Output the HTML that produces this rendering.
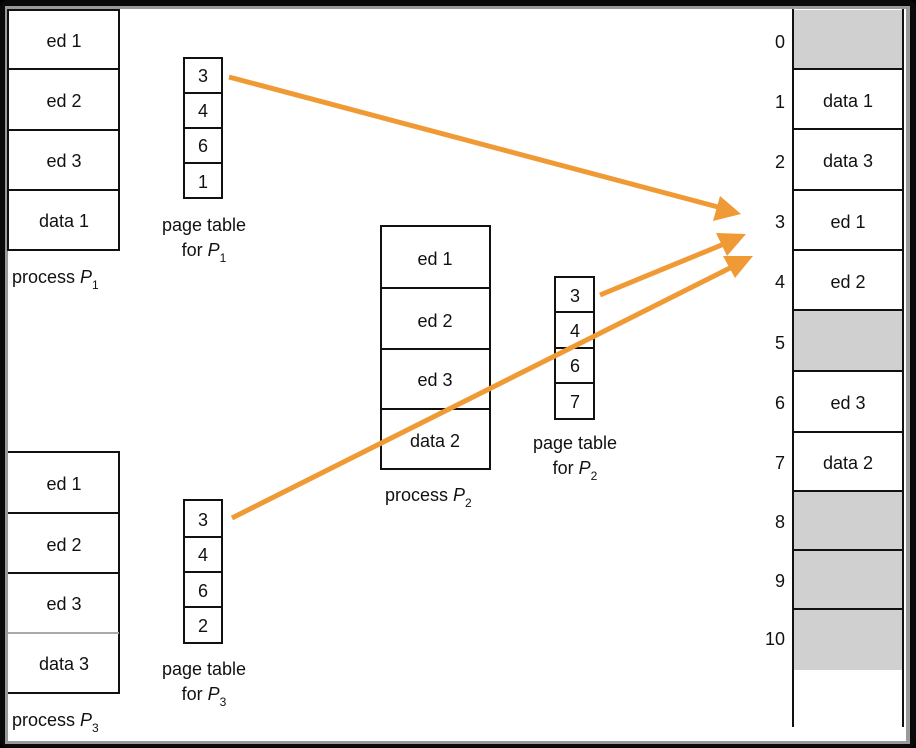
<!DOCTYPE html>
<html><head><meta charset="utf-8"><style>
html,body{margin:0;padding:0;background:#000;}
svg{display:block;font-family:"Liberation Sans",Arial,sans-serif;}
text{font-size:18px;fill:#111;}
</style></head><body>
<svg width="916" height="748" viewBox="0 0 916 748" xmlns="http://www.w3.org/2000/svg">
<rect x="0" y="0" width="916" height="748" rx="8" fill="#0a0a0a"/>
<rect x="5" y="6" width="905" height="738" fill="#9a9a9a"/>
<rect x="8" y="9" width="898" height="732" fill="#fff"/>
<g stroke="#111" stroke-width="2" fill="none">
<!-- P1 -->
<rect x="8" y="10" width="111" height="240" fill="#fff"/>
<line x1="8" y1="69" x2="119" y2="69"/><line x1="8" y1="130" x2="119" y2="130"/><line x1="8" y1="190" x2="119" y2="190"/>
<!-- PT1 -->
<rect x="184" y="58" width="38" height="140"/>
<line x1="184" y1="93" x2="222" y2="93"/><line x1="184" y1="128" x2="222" y2="128"/><line x1="184" y1="163" x2="222" y2="163"/>
<!-- P3 -->
<path d="M8 452 H119 V693 H8"/>
<line x1="8" y1="513" x2="119" y2="513"/><line x1="8" y1="573" x2="119" y2="573"/><line x1="8" y1="633" x2="119" y2="633" stroke="#aaa"/>
<!-- PT3 -->
<rect x="184" y="500" width="38" height="143"/>
<line x1="184" y1="537" x2="222" y2="537"/><line x1="184" y1="572" x2="222" y2="572"/><line x1="184" y1="607" x2="222" y2="607"/>
<!-- P2 -->
<rect x="381" y="226" width="109" height="243"/>
<line x1="381" y1="288" x2="490" y2="288"/><line x1="381" y1="349" x2="490" y2="349"/><line x1="381" y1="409" x2="490" y2="409"/>
<!-- PT2 -->
<rect x="555" y="277" width="39" height="142"/>
<line x1="555" y1="312" x2="594" y2="312"/><line x1="555" y1="348" x2="594" y2="348"/><line x1="555" y1="383" x2="594" y2="383"/>
</g>
<!-- memory -->
<g stroke="none" fill="#d0d0d0">
<rect x="793" y="10" width="110" height="59"/>
<rect x="793" y="310" width="110" height="61"/>
<rect x="793" y="491" width="110" height="179"/>
</g>
<g stroke="#111" stroke-width="2">
<line x1="793" y1="9" x2="793" y2="727"/><line x1="903" y1="9" x2="903" y2="727"/>
<line x1="793" y1="69" x2="903" y2="69"/><line x1="793" y1="129" x2="903" y2="129"/><line x1="793" y1="190" x2="903" y2="190"/>
<line x1="793" y1="250" x2="903" y2="250"/><line x1="793" y1="310" x2="903" y2="310"/><line x1="793" y1="371" x2="903" y2="371"/>
<line x1="793" y1="432" x2="903" y2="432"/><line x1="793" y1="491" x2="903" y2="491"/><line x1="793" y1="550" x2="903" y2="550"/>
<line x1="793" y1="609" x2="903" y2="609"/>
</g>
<g text-anchor="middle">
<text x="64" y="47">ed 1</text><text x="64" y="107">ed 2</text><text x="64" y="167">ed 3</text><text x="64" y="227">data 1</text>
<text x="203" y="82">3</text><text x="203" y="117">4</text><text x="203" y="152">6</text><text x="203" y="188">1</text>
<text x="64" y="490">ed 1</text><text x="64" y="551">ed 2</text><text x="64" y="610">ed 3</text><text x="64" y="670">data 3</text>
<text x="203" y="526">3</text><text x="203" y="561">4</text><text x="203" y="597">6</text><text x="203" y="632">2</text>
<text x="435" y="265">ed 1</text><text x="435" y="327">ed 2</text><text x="435" y="386">ed 3</text><text x="435" y="447">data 2</text>
<text x="575" y="302">3</text><text x="575" y="337">4</text><text x="575" y="372">6</text><text x="575" y="408">7</text>
<text x="848" y="107">data 1</text><text x="848" y="167">data 3</text><text x="848" y="228">ed 1</text><text x="848" y="288">ed 2</text>
<text x="848" y="409">ed 3</text><text x="848" y="469">data 2</text>
<text x="204" y="231">page table</text><text x="204" y="256">for <tspan font-style="italic">P</tspan><tspan font-size="12" dy="6">1</tspan></text>
<text x="204" y="675">page table</text><text x="204" y="700">for <tspan font-style="italic">P</tspan><tspan font-size="12" dy="6">3</tspan></text>
<text x="575" y="449">page table</text><text x="575" y="474">for <tspan font-style="italic">P</tspan><tspan font-size="12" dy="6">2</tspan></text>
</g>
<text x="12" y="283">process <tspan font-style="italic">P</tspan><tspan font-size="12" dy="6">1</tspan></text>
<text x="12" y="726">process <tspan font-style="italic">P</tspan><tspan font-size="12" dy="6">3</tspan></text>
<text x="385" y="501">process <tspan font-style="italic">P</tspan><tspan font-size="12" dy="6">2</tspan></text>
<g text-anchor="end">
<text x="785" y="48">0</text><text x="785" y="108">1</text><text x="785" y="168">2</text><text x="785" y="228">3</text>
<text x="785" y="288">4</text><text x="785" y="349">5</text><text x="785" y="409">6</text><text x="785" y="469">7</text>
<text x="785" y="528">8</text><text x="785" y="587">9</text><text x="785" y="645">10</text>
</g>
<!-- arrows -->
<g stroke="#f09a35" stroke-width="5" fill="none">
<line x1="229" y1="77" x2="718" y2="207"/>
<line x1="600" y1="295" x2="724" y2="244"/>
<line x1="232" y1="518" x2="732" y2="267"/>
</g>
<g fill="#f09a35">
<polygon points="741,214 713,221 720,196"/>
<polygon points="746,234 727,256 716,233"/>
<polygon points="753,256 735,278 723,256"/>
</g>
</svg>
</body></html>
